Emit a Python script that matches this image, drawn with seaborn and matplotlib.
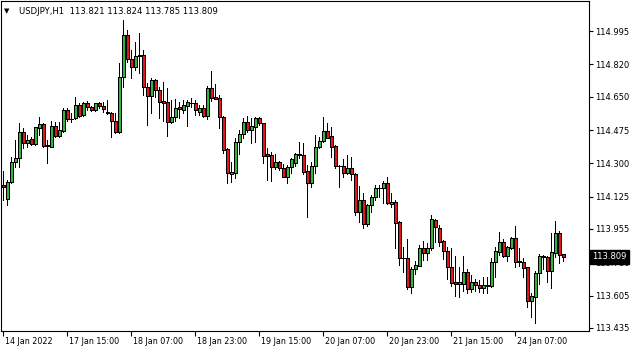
import numpy as np
import matplotlib
matplotlib.use("Agg")
import matplotlib.pyplot as plt
from matplotlib.transforms import ScaledTranslation
import seaborn as sns

# --- USDJPY H1 candles ---
opens = [
    114.185, 114.111, 114.204, 114.305, 114.326, 114.466, 114.409, 114.426, 114.402, 114.487,
    114.505, 114.391, 114.388, 114.496, 114.444, 114.472, 114.580, 114.531, 114.536, 114.605,
    114.554, 114.615, 114.594, 114.580, 114.615, 114.601, 114.568, 114.566, 114.521, 114.465,
    114.752, 114.974, 114.846, 114.808, 114.862, 114.867, 114.699, 114.655, 114.738, 114.685,
    114.629, 114.620, 114.515, 114.542, 114.594, 114.580, 114.603, 114.616, 114.615, 114.571,
    114.589, 114.550, 114.694, 114.650, 114.641, 114.545, 114.374, 114.246, 114.251, 114.414,
    114.452, 114.515, 114.475, 114.493, 114.540, 114.510, 114.347, 114.344, 114.279, 114.305,
    114.274, 114.230, 114.279, 114.300, 114.349, 114.342, 114.262, 114.195, 114.286, 114.384,
    114.416, 114.468, 114.444, 114.391, 114.288, 114.286, 114.248, 114.274, 114.244, 114.046,
    114.107, 113.980, 114.081, 114.125, 114.169, 114.172, 114.195, 114.085, 114.099, 113.992,
    113.801, 113.801, 113.652, 113.743, 113.762, 113.854, 113.827, 113.854, 114.002, 113.959,
    113.894, 113.839, 113.757, 113.675, 113.664, 113.664, 113.727, 113.638, 113.675, 113.661,
    113.643, 113.656, 113.656, 113.780, 113.836, 113.885, 113.815, 113.854, 113.906, 113.783,
    113.783, 113.754, 113.579, 113.600, 113.722, 113.806, 113.806, 113.736, 113.827, 113.932,
    113.821,
]
highs = [
    114.262, 114.212, 114.335, 114.423, 114.510, 114.484, 114.449, 114.440, 114.493, 114.545,
    114.510, 114.423, 114.522, 114.519, 114.519, 114.589, 114.589, 114.563, 114.650, 114.615,
    114.624, 114.629, 114.601, 114.619, 114.624, 114.624, 114.633, 114.571, 114.563, 114.825,
    115.053, 115.000, 114.895, 114.939, 114.986, 114.895, 114.720, 114.746, 114.741, 114.699,
    114.729, 114.694, 114.633, 114.636, 114.624, 114.633, 114.633, 114.641, 114.633, 114.606,
    114.606, 114.706, 114.785, 114.715, 114.659, 114.549, 114.379, 114.309, 114.431, 114.475,
    114.536, 114.549, 114.536, 114.545, 114.545, 114.514, 114.379, 114.361, 114.349, 114.314,
    114.296, 114.291, 114.326, 114.356, 114.412, 114.405, 114.291, 114.309, 114.449, 114.440,
    114.542, 114.510, 114.489, 114.395, 114.291, 114.321, 114.344, 114.335, 114.248, 114.181,
    114.146, 114.086, 114.134, 114.186, 114.186, 114.207, 114.230, 114.146, 114.107, 113.995,
    113.862, 113.901, 113.754, 113.787, 113.871, 113.894, 113.880, 114.029, 114.008, 113.976,
    113.897, 113.862, 113.854, 113.813, 113.757, 113.813, 113.747, 113.713, 113.692, 113.687,
    113.701, 113.701, 113.801, 113.859, 113.941, 113.903, 113.868, 113.911, 113.971, 113.857,
    113.801, 113.757, 113.617, 113.736, 113.824, 113.818, 113.813, 113.932, 113.999, 113.946,
    113.824,
]
lows = [
    114.107, 114.081, 114.198, 114.283, 114.283, 114.379, 114.388, 114.396, 114.396, 114.449,
    114.388, 114.300, 114.384, 114.440, 114.440, 114.466, 114.524, 114.519, 114.531, 114.545,
    114.549, 114.580, 114.577, 114.577, 114.589, 114.571, 114.559, 114.440, 114.461, 114.461,
    114.699, 114.834, 114.746, 114.790, 114.773, 114.659, 114.501, 114.566, 114.650, 114.536,
    114.524, 114.444, 114.510, 114.524, 114.536, 114.563, 114.496, 114.598, 114.554, 114.554,
    114.545, 114.531, 114.629, 114.636, 114.484, 114.356, 114.198, 114.204, 114.225, 114.349,
    114.431, 114.466, 114.405, 114.414, 114.501, 114.304, 114.212, 114.209, 114.270, 114.265,
    114.228, 114.198, 114.251, 114.288, 114.326, 114.244, 114.020, 114.177, 114.248, 114.379,
    114.414, 114.431, 114.335, 114.274, 114.177, 114.230, 114.244, 114.212, 114.029, 113.994,
    113.959, 113.971, 114.046, 114.107, 114.125, 114.093, 114.086, 114.069, 113.854, 113.766,
    113.731, 113.640, 113.621, 113.719, 113.761, 113.792, 113.792, 113.845, 113.889, 113.868,
    113.796, 113.691, 113.656, 113.605, 113.596, 113.629, 113.621, 113.626, 113.631, 113.626,
    113.621, 113.621, 113.652, 113.705, 113.818, 113.810, 113.789, 113.848, 113.754, 113.762,
    113.705, 113.547, 113.495, 113.460, 113.666, 113.743, 113.678, 113.643, 113.806, 113.778,
    113.785,
]
closes = [
    114.174, 114.204, 114.305, 114.326, 114.466, 114.405, 114.423, 114.402, 114.489, 114.505,
    114.391, 114.396, 114.496, 114.444, 114.475, 114.580, 114.531, 114.535, 114.605, 114.549,
    114.615, 114.594, 114.580, 114.615, 114.601, 114.584, 114.566, 114.524, 114.466, 114.752,
    114.974, 114.846, 114.808, 114.864, 114.867, 114.703, 114.655, 114.738, 114.685, 114.624,
    114.615, 114.515, 114.542, 114.589, 114.584, 114.605, 114.620, 114.615, 114.580, 114.589,
    114.550, 114.694, 114.641, 114.638, 114.545, 114.370, 114.248, 114.255, 114.414, 114.452,
    114.515, 114.475, 114.496, 114.540, 114.510, 114.340, 114.340, 114.279, 114.305, 114.274,
    114.230, 114.279, 114.321, 114.349, 114.342, 114.256, 114.195, 114.286, 114.384, 114.416,
    114.468, 114.435, 114.388, 114.286, 114.286, 114.248, 114.274, 114.242, 114.046, 114.107,
    113.981, 114.081, 114.125, 114.169, 114.170, 114.195, 114.090, 114.099, 113.985, 113.801,
    113.803, 113.649, 113.745, 113.766, 113.854, 113.827, 113.854, 114.006, 113.964, 113.889,
    113.839, 113.754, 113.673, 113.668, 113.677, 113.727, 113.638, 113.677, 113.659, 113.647,
    113.661, 113.661, 113.780, 113.839, 113.885, 113.815, 113.862, 113.906, 113.783, 113.789,
    113.748, 113.579, 113.603, 113.722, 113.815, 113.813, 113.736, 113.833, 113.932, 113.818,
    113.809,
]

price_ticks = [114.995, 114.820, 114.650, 114.475, 114.300, 114.125, 113.955, 113.780, 113.605, 113.435]
time_tick_bars = [0, 16, 32, 48, 64, 80, 96, 112, 128]
time_labels = ["14 Jan 2022", "17 Jan 15:00", "18 Jan 07:00", "18 Jan 23:00", "19 Jan 15:00",
               "20 Jan 07:00", "20 Jan 23:00", "21 Jan 15:00", "24 Jan 07:00"]
header = "USDJPY,H1  113.821 113.824 113.785 113.809"
last_price = 113.809

BULL = "#2fb83c"
BEAR = "#e8141c"

sns.set_theme(style="white")
plt.rcParams["font.family"] = ["DejaVu Sans"]

o = np.array(opens)
h = np.array(highs)
l = np.array(lows)
c = np.array(closes)
x = np.arange(len(o))

fig = plt.figure(figsize=(6.35, 3.52), dpi=100)
ax = fig.add_axes([1 / 635, 21 / 352, 588 / 635, 330 / 352])

# wicks, then bodies (no antialiasing, for crisp MT4-like pixels)
ax.vlines(x, l, h, color="black", linewidth=0.72, zorder=2, antialiased=False)
colors = np.where(c >= o, BULL, BEAR)
ax.bar(x, c - o, bottom=o, width=0.75, color=colors, edgecolor="black",
       linewidth=0.72, zorder=3, antialiased=False)

ax.set_xlim(-0.5, 146.5)
ax.set_ylim(113.419, 115.153)

for s in ax.spines.values():
    s.set_color("black")
    s.set_linewidth(0.8)

ax.yaxis.tick_right()
ax.set_yticks(price_ticks)
ax.set_yticklabels([f"{v:.3f}" for v in price_ticks])
ax.tick_params(axis="y", direction="out", length=3, width=0.8, pad=1.5,
               labelsize=6, colors="black", right=True, left=False)

ax.set_xticks(time_tick_bars)
ax.set_xticklabels(time_labels)
ax.tick_params(axis="x", direction="out", length=3.5, width=0.8, pad=1,
               labelsize=5.8, colors="black", bottom=True)
shift = ScaledTranslation(2 / 100, 0, fig.dpi_scale_trans)
for lab in ax.get_xticklabels():
    lab.set_horizontalalignment("left")
    lab.set_transform(lab.get_transform() + shift)

ax.grid(False)

# current price box on the price scale (covers the 113.780 label, as in MT4)
ax.text(1.006, last_price, f"{last_price:.3f}", transform=ax.get_yaxis_transform(),
        ha="left", va="center", color="white", fontsize=6, clip_on=False, zorder=10,
        bbox=dict(boxstyle="square,pad=0.3", fc="black", ec="black"))

# header
fig.text(4 / 635, 1 - 11 / 352, "\u25bc", fontsize=5, color="black", va="center", ha="left")
fig.text(19 / 635, 1 - 11 / 352, header, fontsize=6.1, color="black", va="center", ha="left")

fig.savefig("out.png", dpi=100, facecolor="white")
